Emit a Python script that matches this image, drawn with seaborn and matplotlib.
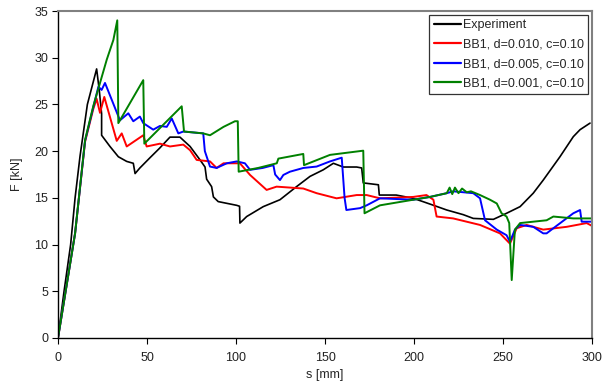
import matplotlib
matplotlib.use("Agg")
import matplotlib.pyplot as plt
import seaborn as sns
import pandas as pd

# ---- data ----
exp_s = [0, 3.4, 7.1, 9.6, 12.4, 16.5, 21.7, 23.2, 24.5, 24.5, 29.2, 33.9, 38.6, 42.3, 43.3, 46, 51.7,
         57, 62.9, 68.5, 74.2, 79.8, 82.6, 83.5, 86.3, 87.3, 90, 100.4, 102, 102.2, 106, 115.3, 124.7,
         134, 141.6, 149, 154.7, 160.3, 167.8, 170.6, 171.5, 180, 180.5, 190, 199.6, 205, 211, 218.4,
         227.7, 233.3, 244.6, 252, 259.6, 267, 272.6, 282, 289.5, 293.3, 298.9]
exp_f = [0, 5, 10, 15, 19.5, 25, 28.8, 26.5, 24, 21.7, 20.5, 19.4, 18.9, 18.7, 17.6, 18.2, 19.3,
         20.3, 21.5, 21.5, 20.5, 19.06, 18.3, 17.0, 16.2, 15.1, 14.6, 14.2, 14.1, 12.3, 13.0, 14.06, 14.8,
         16.2, 17.3, 18.0, 18.7, 18.3, 18.3, 18.2, 16.6, 16.4, 15.3, 15.3, 14.95, 14.6, 14.2, 13.7,
         13.2, 12.8, 12.7, 13.35, 14.06, 15.5, 16.9, 19.4, 21.55, 22.3, 23.0]

red_s = [0, 9.6, 15.2, 19.8, 21.7, 23.6, 26, 33, 35.8, 38.6, 47.9, 49.8, 57.3, 62.9, 70.4, 74.2,
         77.9, 85.4, 89.1, 93, 102.2, 107.9, 117.2, 122.8, 137.8, 145.3, 156.5, 167.8, 173.4, 180.9,
         199.6, 207, 210.9, 212.7, 222, 237.1, 248.3, 253.9, 257.7, 263.3, 272.6, 285.8, 297, 300]
red_f = [0, 11.2, 21.0, 24.5, 25.6, 24.1, 25.8, 21.1, 21.9, 20.5, 21.7, 20.5, 20.8, 20.5, 20.7, 20.1,
         19.06, 18.9, 18.2, 18.7, 18.7, 17.45, 15.85, 16.2, 16.0, 15.5, 14.95, 15.3, 15.3, 14.95,
         15.1, 15.3, 14.8, 13.0, 12.8, 12.1, 11.2, 10.1, 11.75, 12.1, 11.6, 11.9, 12.3, 12.0]

blue_s = [0, 9.6, 15.2, 19.8, 22.7, 24.5, 26.4, 28.3, 34.8, 39.5, 42.3, 46, 47.9, 53.5, 57.3, 61.1,
          63.9, 67.6, 70.4, 81.6, 82.5, 85.4, 89.1, 94.8, 100.4, 105, 107.9, 115, 121, 122, 124.7,
          126.6, 130.3, 137.8, 145.3, 152.8, 159.4, 161, 162, 169.7, 173.4, 180.9, 199.6, 209, 218.4,
          222, 233.3, 237.1, 239.9, 246.5, 252, 253.9, 256.7, 259.6, 267, 272.6, 274.5, 278.3, 289.5,
          293.3, 294.2, 299.8]
blue_f = [0, 11.2, 21.1, 24.7, 26.9, 26.55, 27.3, 26.4, 23.3, 24.05, 23.2, 23.7, 23.0, 22.3, 22.7, 22.6,
          23.5, 21.9, 22.1, 21.9, 20.0, 18.35, 18.2, 18.7, 18.9, 18.7, 18.0, 18.2, 18.5, 17.5, 16.9,
          17.45, 17.8, 18.2, 18.35, 18.9, 19.3, 15.0, 13.7, 13.9, 14.2, 14.95, 14.8, 15.1, 15.5,
          15.7, 15.5, 14.95, 12.6, 11.6, 11.0, 10.3, 11.6, 12.1, 11.9, 11.2, 11.2, 11.75, 13.35,
          13.7, 12.45, 12.45]

green_s = [0, 9.6, 15.2, 19.8, 23.6, 27.4, 31.1, 33.3, 33.9, 47.9, 48.5, 69.5, 70.8, 81.6, 85.4, 93,
           99.4, 101, 101.5, 112.4, 122.9, 123.8, 137.8, 138.2, 152.8, 171.5, 172.2, 180.9, 199.6,
           209, 218.4, 220, 221.5, 223, 225, 227, 229.6, 232, 237.1, 242.7, 246.5, 249.2, 252, 253.5,
           254.9, 256.7, 259.6, 267, 274.5, 278.3, 289.5, 299.8]
green_f = [0, 11.2, 21.2, 24.8, 27.3, 29.8, 31.9, 34.0, 23.0, 27.6, 20.8, 24.8, 22.1, 21.9, 21.7, 22.6,
           23.2, 23.2, 17.8, 18.2, 18.7, 19.2, 19.7, 18.5, 19.6, 20.05, 13.35, 14.2, 14.8,
           15.1, 15.5, 16.1, 15.4, 16.1, 15.5, 16.0, 15.6, 15.7, 15.3, 14.8, 14.4, 13.35, 13.0, 12.3,
           6.2, 11.6, 12.3, 12.45, 12.6, 13.0, 12.8, 12.8]

labels = ["Experiment", "BB1, d=0.010, c=0.10", "BB1, d=0.005, c=0.10", "BB1, d=0.001, c=0.10"]
x_ticks = [0, 50, 100, 150, 200, 250, 300]
y_ticks = [0, 5, 10, 15, 20, 25, 30, 35]

# ---- style ----
sns.set_style("white")
plt.rcParams["font.family"] = ["Liberation Sans", "DejaVu Sans"]
plt.rcParams["font.size"] = 9

fig = plt.figure(figsize=(6.07, 3.87), dpi=100)
ax = fig.add_axes([58 / 607, 1 - 338 / 387, (592 - 58) / 607, (338 - 11) / 387])

series = [(exp_s, exp_f, "black", 1.2), (red_s, red_f, "#ff0000", 1.4),
          (blue_s, blue_f, "#0000ff", 1.4), (green_s, green_f, "#008000", 1.4)]
for (xs, ys, col, lw), lab in zip(series, labels):
    df = pd.DataFrame({"s": xs, "F": ys})
    sns.lineplot(data=df, x="s", y="F", sort=False, estimator=None, color=col,
                 linewidth=lw, label=lab, ax=ax)

ax.set_xlim(0, 300)
ax.set_ylim(0, 35)
ax.set_xticks(x_ticks)
ax.set_yticks(y_ticks)
ax.set_xlabel("s [mm]", fontsize=9, labelpad=4)
ax.set_ylabel("F [kN]", fontsize=9, labelpad=8)
ax.tick_params(axis="both", which="major", direction="out", length=4, width=0.8,
               color="black", labelsize=9, labelcolor="#222222")
ax.tick_params(axis="x", pad=6)
ax.tick_params(axis="y", pad=3)
ax.tick_params(top=False, right=False, bottom=True, left=True)

for side in ["left", "bottom"]:
    ax.spines[side].set_color("black")
    ax.spines[side].set_linewidth(1.0)
for side in ["top", "right"]:
    ax.spines[side].set_color("#808080")
    ax.spines[side].set_linewidth(1.5)

leg = ax.legend(loc="upper right", bbox_to_anchor=(0.993, 0.988), borderaxespad=0,
                frameon=True, fancybox=False, edgecolor="black", fontsize=9,
                handlelength=2.2, handletextpad=0.15, labelspacing=0.6, borderpad=0.35)
leg.get_frame().set_linewidth(0.9)
for line in leg.get_lines():
    line.set_linewidth(1.6)

fig.savefig("out.png", dpi=100)
